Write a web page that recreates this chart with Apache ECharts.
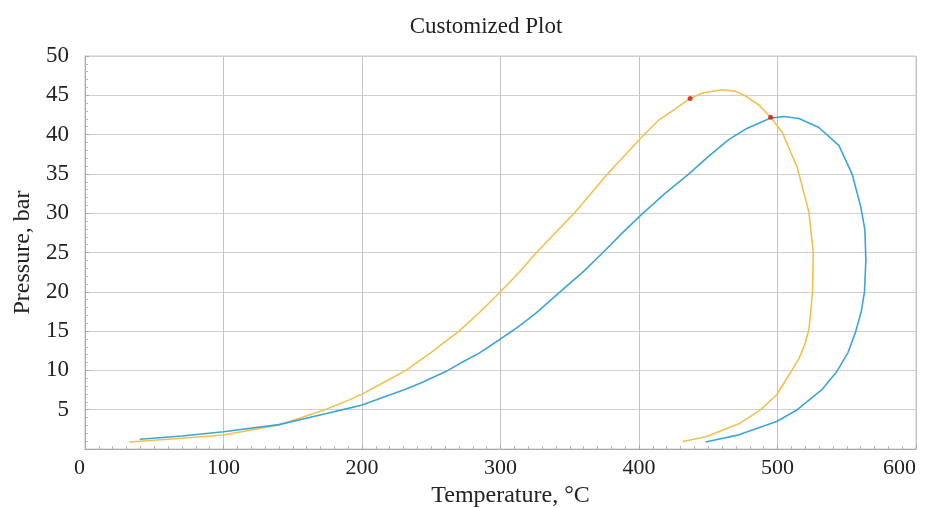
<!DOCTYPE html>
<html>
<head>
<meta charset="utf-8">
<script src="https://cdn.jsdelivr.net/npm/echarts@6/dist/echarts.min.js"></script>
<style>
  html, body { margin: 0; padding: 0; background: #fff; }
  #chart { width: 925px; height: 508px; }
</style>
</head>
<body>
<div id="chart"></div>
<script>
// orange curve (temperature °C, pressure bar), traced in order along the envelope
const orangeT = [32, 65, 100, 140, 172.8, 190.8, 200, 216, 231.7, 250, 270, 285, 300, 313, 326, 353.2, 377.3, 390, 402, 414, 426.5, 436.9, 445.8, 460.2, 470, 477, 487, 495, 503.4, 514.3, 522.7, 525.8, 525.3, 522.7, 519.5, 515.5, 509, 499.4, 487.9, 472.1, 448.2, 431.5]
const orangeP = [0.9, 1.3, 1.79, 3.06, 4.97, 6.25, 6.98, 8.5, 10, 12.3, 15, 17.4, 20, 22.4, 25, 30, 35, 37.4, 39.7, 41.8, 43.3, 44.6, 45.3, 45.7, 45.5, 44.9, 43.7, 42.2, 40.3, 35.8, 30.1, 25, 20, 15.2, 13.2, 11.5, 9.6, 6.9, 5, 3.2, 1.57, 0.95]

// blue curve
const blueT = [39.5, 70, 100, 140, 172.8, 190.8, 200, 214.9, 230, 243.7, 262, 273, 284.6, 300, 310, 325, 343, 360, 374, 388, 401, 418, 436, 450, 465, 477, 495, 504.7, 515.5, 529.9, 544.4, 554, 560, 563.1, 563.8, 562.8, 560.5, 556.4, 551, 543, 532.3, 514.3, 499.4, 472.1, 448]
const blueP = [1.25, 1.65, 2.2, 3.1, 4.46, 5.2, 5.6, 6.55, 7.5, 8.5, 10, 11.1, 12.2, 14, 15.2, 17.2, 20, 22.6, 25, 27.5, 29.7, 32.4, 35, 37.2, 39.4, 40.7, 42.1, 42.3, 42.05, 40.9, 38.6, 34.9, 30.9, 27.9, 24, 20, 17.5, 14.9, 12.3, 9.9, 7.6, 5, 3.5, 1.8, 0.9]

// red marker points
const markT = [436.9, 495]
const markP = [44.6, 42.2]

const xTicks = { min: 0, max: 600, step: 100 }
const yTicks = { min: 0, max: 50, step: 5 }

const zip = (a, b) => a.map((v, i) => [v, b[i]])

const font = 'Liberation Serif'

const chart = echarts.init(document.getElementById('chart'))

chart.setOption({
  animation: false,
  title: {
    text: 'Customized Plot',
    left: 481,
    top: 10,
    textAlign: 'center',
    textStyle: { fontFamily: font, fontSize: 23, fontWeight: 'normal', color: '#222' }
  },
  grid: {
    left: 85,
    right: 9,
    top: 56,
    bottom: 59,
    outerBoundsMode: 'none',
    containLabel: false,
    show: true,
    borderColor: '#c8c8c8',
    borderWidth: 1
  },
  xAxis: {
    type: 'value',
    min: xTicks.min,
    max: xTicks.max,
    interval: xTicks.step,
    name: 'Temperature, °C',
    nameLocation: 'middle',
    nameGap: 34,
    nameTextStyle: { fontFamily: font, fontSize: 24, color: '#222', padding: [0, 0, 0, 20] },
    axisLine: { lineStyle: { color: '#a8a8a8' } },
    axisTick: { inside: true, length: 4, lineStyle: { color: '#a8a8a8' } },
    minorTick: { show: true, splitNumber: 10, length: 3, lineStyle: { color: '#b8b8b8' } },
    axisLabel: {
      fontFamily: font, fontSize: 22, color: '#222', margin: 8,
      alignMinLabel: 'right', alignMaxLabel: 'right'
    },
    splitLine: { lineStyle: { color: '#c4c4c8' } }
  },
  yAxis: {
    type: 'value',
    min: yTicks.min,
    max: yTicks.max,
    interval: yTicks.step,
    name: 'Pressure, bar',
    nameLocation: 'middle',
    nameGap: 48,
    nameTextStyle: { fontFamily: font, fontSize: 24, color: '#222' },
    axisLine: { show: true, lineStyle: { color: '#a8a8a8' } },
    axisTick: { show: true, inside: true, length: 4, lineStyle: { color: '#a8a8a8' } },
    minorTick: { show: true, splitNumber: 5, length: 3, lineStyle: { color: '#b8b8b8' } },
    axisLabel: {
      fontFamily: font, fontSize: 23, color: '#222', margin: 16,
      formatter: v => (v === 0 ? '' : v)
    },
    splitLine: { lineStyle: { color: '#cfcfcf' } }
  },
  series: [
    {
      name: 'orange',
      type: 'line',
      data: zip(orangeT, orangeP),
      smooth: false,
      showSymbol: false,
      lineStyle: { color: '#f3c04e', width: 1.6 },
      z: 2
    },
    {
      name: 'blue',
      type: 'line',
      data: zip(blueT, blueP),
      smooth: false,
      showSymbol: false,
      lineStyle: { color: '#3ea5d8', width: 1.6 },
      z: 3
    },
    {
      name: 'points',
      type: 'scatter',
      data: zip(markT, markP),
      symbolSize: 5,
      itemStyle: { color: '#e01010' },
      z: 4
    }
  ]
})
</script>
</body>
</html>
